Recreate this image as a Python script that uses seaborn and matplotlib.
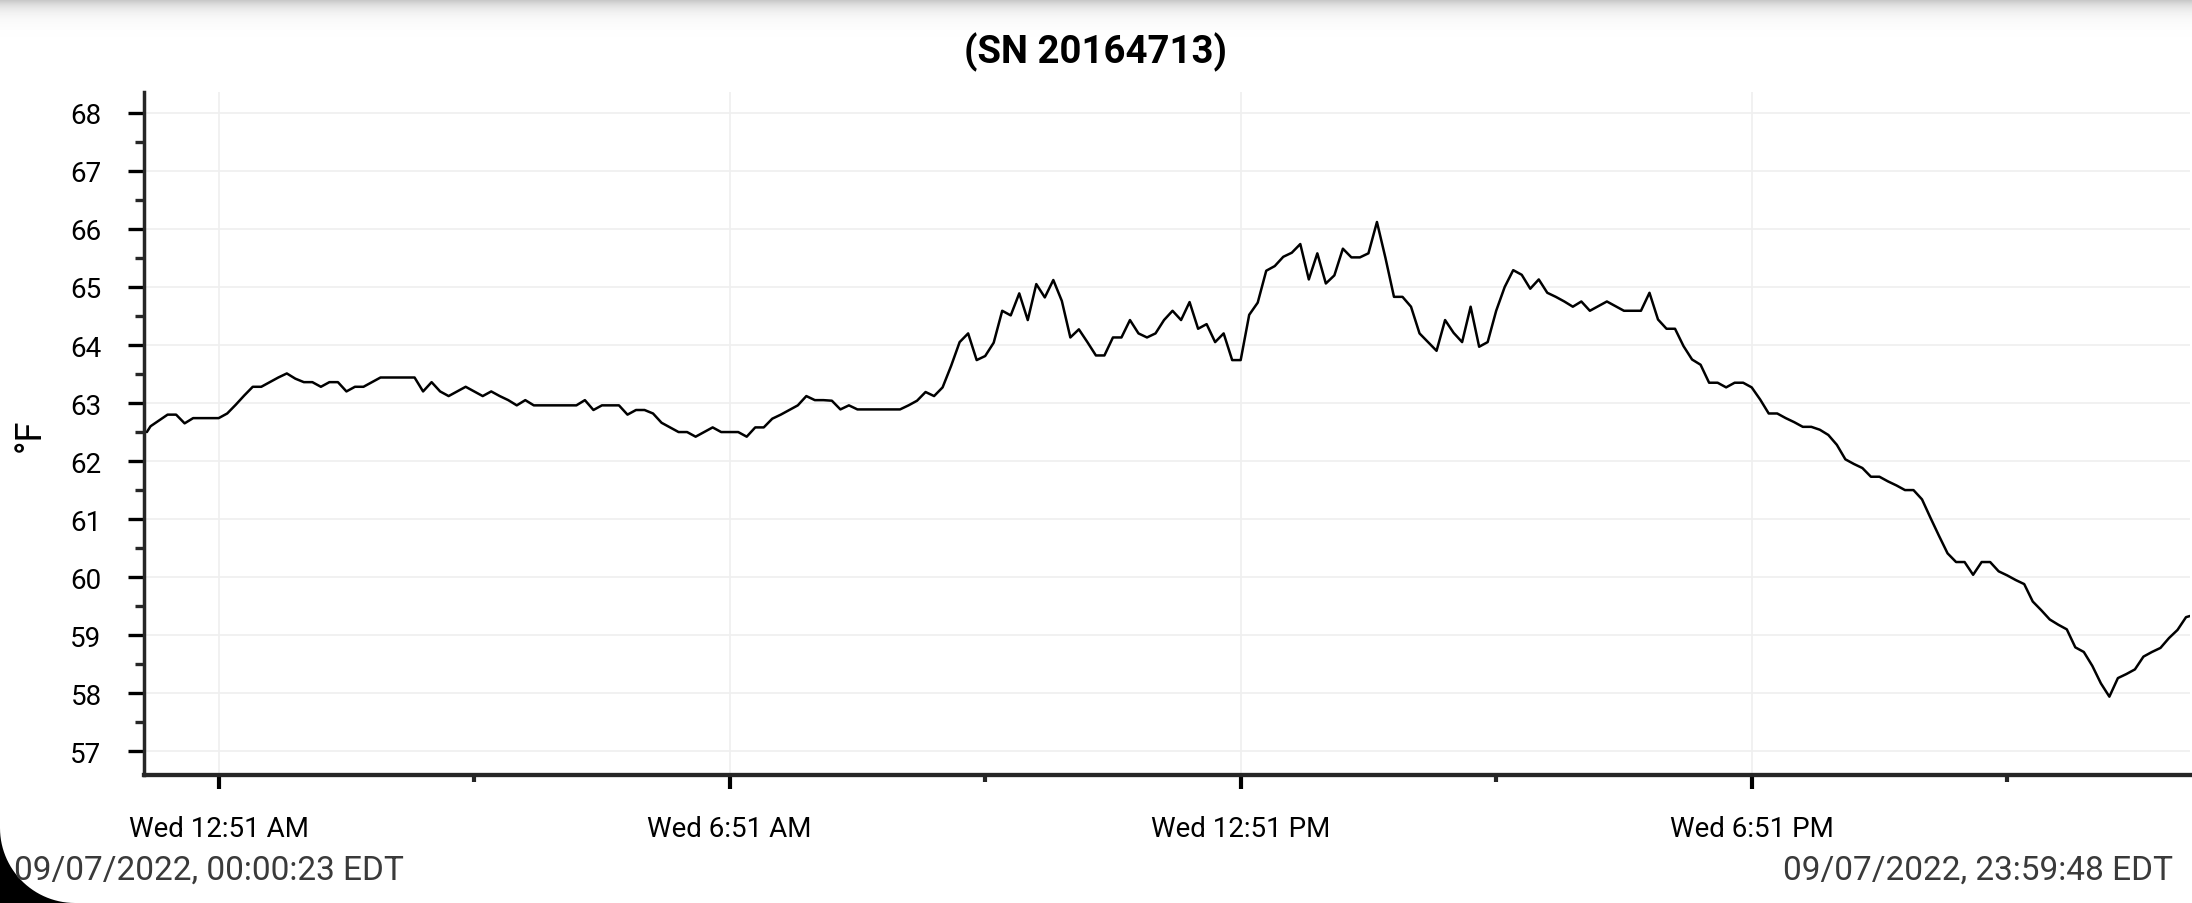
import matplotlib
matplotlib.use("Agg")
import matplotlib.pyplot as plt
from matplotlib.patches import Polygon
import numpy as np
import pandas as pd
import seaborn as sns

# chart text
title = "(SN 20164713)"
y_label = "°F"
start_label = "09/07/2022, 00:00:23 EDT"
end_label = "09/07/2022, 23:59:48 EDT"

# logger timing: first and last reading, regular readings in between
first_time = "2022-09-07 00:00:23"
last_time = "2022-09-07 23:59:48"
log_start = "2022-09-07 00:03:00"
log_step = "6min"

# temperatures (°F)
temps_night = [
    62.50, 62.60, 62.70, 62.80, 62.80, 62.65, 62.74, 62.74, 62.74, 62.74,
    62.82, 62.97, 63.13, 63.28, 63.28, 63.36, 63.44, 63.51, 63.42, 63.36,
    63.36, 63.28, 63.36, 63.36, 63.20, 63.28, 63.28, 63.36, 63.44, 63.44,
    63.44, 63.44, 63.44, 63.20, 63.36, 63.20, 63.12, 63.20, 63.28, 63.20,
    63.12,
]
temps_early = [
    63.20, 63.12, 63.05, 62.96, 63.05, 62.96, 62.96, 62.96, 62.96, 62.96,
    62.96, 63.05, 62.88, 62.96, 62.96, 62.96, 62.80, 62.88, 62.88, 62.82,
    62.66, 62.58, 62.50, 62.50, 62.42, 62.50, 62.58, 62.50, 62.50, 62.50,
    62.42, 62.58, 62.58, 62.73, 62.80, 62.88, 62.96, 63.12, 63.05, 63.05,
]
temps_morning = [
    63.04, 62.89, 62.96, 62.89, 62.89, 62.89, 62.89, 62.89, 62.89, 62.96,
    63.04, 63.19, 63.12, 63.27, 63.64, 64.05, 64.20, 63.74, 63.81, 64.04,
    64.59, 64.51, 64.89, 64.43, 65.05, 64.82, 65.12, 64.76, 64.13, 64.27,
    64.05, 63.82, 63.82, 64.13, 64.13, 64.43, 64.20, 64.13, 64.20, 64.43,
]
temps_afternoon = [
    64.59, 64.43, 64.74, 64.28, 64.36, 64.05, 64.20, 63.74, 63.74, 64.52,
    64.73, 65.28, 65.36, 65.52, 65.59, 65.74, 65.13, 65.58, 65.06, 65.20,
    65.66, 65.51, 65.51, 65.58, 66.12, 65.50, 64.83, 64.83, 64.66, 64.20,
    64.05, 63.90, 64.43, 64.21, 64.05, 64.66, 63.97, 64.05, 64.59, 65.00,
]
temps_evening = [
    65.29, 65.21, 64.97, 65.13, 64.90, 64.83, 64.75, 64.66, 64.75, 64.59,
    64.67, 64.75, 64.67, 64.59, 64.59, 64.59, 64.90, 64.44, 64.28, 64.28,
    63.98, 63.75, 63.66, 63.35, 63.35, 63.27, 63.35, 63.35, 63.27, 63.06,
    62.82, 62.82, 62.74, 62.67, 62.59, 62.59, 62.54, 62.45, 62.28,
]
temps_late = [
    62.03, 61.95, 61.88, 61.73, 61.73, 61.65, 61.58, 61.50, 61.50, 61.34,
    61.02, 60.71, 60.41, 60.26, 60.26, 60.04, 60.26, 60.26, 60.10, 60.03,
    59.95, 59.88, 59.58, 59.43, 59.27, 59.18, 59.10, 58.79, 58.71, 58.47,
    58.17, 57.94, 58.26, 58.33, 58.41, 58.63, 58.71, 58.78, 58.95, 59.09,
    59.31, 59.33,
]

major_ticks = ["2022-09-07 00:51", "2022-09-07 06:51", "2022-09-07 12:51", "2022-09-07 18:51"]
major_labels = ["Wed 12:51 AM", "Wed 6:51 AM", "Wed 12:51 PM", "Wed 6:51 PM"]
minor_ticks = ["2022-09-07 03:51", "2022-09-07 09:51", "2022-09-07 15:51", "2022-09-07 21:51"]
y_ticks = [57, 58, 59, 60, 61, 62, 63, 64, 65, 66, 67, 68]
y_minor = [57.5, 58.5, 59.5, 60.5, 61.5, 62.5, 63.5, 64.5, 65.5, 66.5, 67.5]
y_limits = (56.59, 68.36)

temps = temps_night + temps_early + temps_morning + temps_afternoon + temps_evening + temps_late
times = ([pd.Timestamp(first_time)]
         + list(pd.date_range(log_start, periods=len(temps) - 2, freq=log_step))
         + [pd.Timestamp(last_time)])
df = pd.DataFrame({"time": times, "temp": temps})

sns.set_theme(style="ticks")
plt.rcParams["font.family"] = ["Roboto", "DejaVu Sans"]

W, H = 2192, 904
fig = plt.figure(figsize=(W / 100, H / 100), dpi=100)
fig.patch.set_facecolor("white")

# top shadow band of the screenshot
shade = fig.add_axes([0, 1 - 40 / H, 1, 40 / H])
grad = 1 - 0.24 * np.exp(-np.arange(40) / 9.0)
shade.imshow(grad[:, None], cmap="gray", vmin=0, vmax=1, aspect="auto")
shade.axis("off")

ax = fig.add_axes([144 / W, 1 - 776 / H, (2190 - 144) / W, (776 - 93) / H])
sns.lineplot(data=df, x="time", y="temp", ax=ax, color="black",
             linewidth=1.8, estimator=None)

# small gap between the y axis and the first reading
ax.set_xlim(df["time"].min() - pd.Timedelta(minutes=2), df["time"].max())
ax.set_ylim(*y_limits)

ax.set_xticks(pd.to_datetime(major_ticks))
ax.set_xticklabels(major_labels)
ax.set_xticks(pd.to_datetime(minor_ticks), minor=True)
ax.set_yticks(y_ticks)
ax.set_yticks(y_minor, minor=True)

ax.set_xlabel("")
ax.set_ylabel("")

for side in ["top", "right"]:
    ax.spines[side].set_visible(False)
ax.spines["left"].set_linewidth(2.5)
ax.spines["bottom"].set_linewidth(3.1)

ax.tick_params(axis="x", which="major", length=10, width=3, pad=19,
               labelsize=20, colors="black")
ax.tick_params(axis="x", which="minor", length=5, width=3)
ax.tick_params(axis="y", which="major", length=11.5, width=2.4, pad=19,
               labelsize=20, colors="black")
ax.tick_params(axis="y", which="minor", length=6.8, width=2.4)

ax.grid(True, which="major", axis="both", color="#efefef", linewidth=1.2)
ax.set_axisbelow(True)

fig.text(0.5, 1 - 52 / H, title, ha="center", va="center",
         fontsize=27.5, fontweight="bold", color="black")
fig.text(30 / W, 1 - 435 / H, y_label, rotation=90, ha="center", va="center",
         fontsize=26, color="black")
fig.text(14 / W, 1 - 871 / H, start_label, ha="left", va="center",
         fontsize=24, color="#3a3a3a")
fig.text(2173 / W, 1 - 871 / H, end_label, ha="right", va="center",
         fontsize=24, color="#3a3a3a")

# rounded black screen corner, bottom left
R = 0.75
ang = np.linspace(np.pi, 1.5 * np.pi, 30)
arc = np.column_stack([R + R * np.cos(ang), R + R * np.sin(ang)])
corner = np.vstack([[[0, 0], [0, R]], arc, [[R, 0]]])
fig.add_artist(Polygon(corner, closed=True, facecolor="black", edgecolor="none",
                       transform=fig.dpi_scale_trans))

fig.savefig("out.png", dpi=100)
